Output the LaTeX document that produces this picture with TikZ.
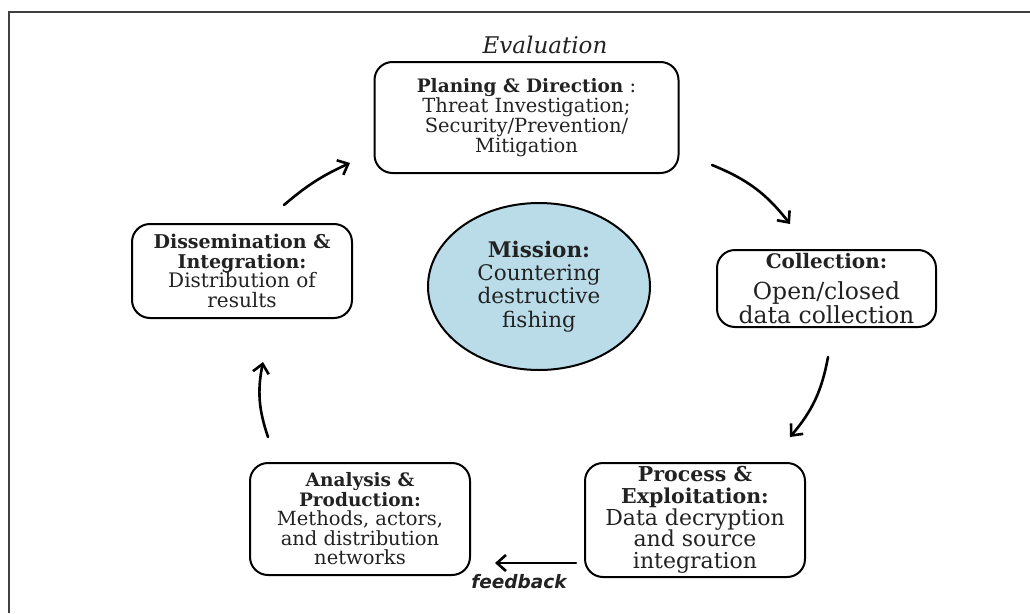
\documentclass[tikz,border=0pt]{standalone}
\usepackage{fontspec}
\setmainfont{DejaVu Serif}
\newfontfamily\fbfont{DejaVu Sans}
\usetikzlibrary{arrows.meta,shapes.geometric}
\definecolor{txt}{HTML}{222222}
\definecolor{mission}{HTML}{B9DCE8}
\newcommand\hdtext[3]{{\fontsize{#1}{#2}\selectfont\bfseries #3}}
\tikzset{
  stagebox/.style={draw=black, line width=2pt, rounded corners=18pt, align=center, text=txt, inner sep=0pt},
  cyclearrow/.style={line width=2.6pt, line cap=round, -{Straight Barb[length=9pt,width=16pt,line width=2.6pt]}},
}
\begin{document}
\begin{tikzpicture}[x=1pt,y=-1pt]
\useasboundingbox (0,0) rectangle (1030,613);
\draw[line width=1.3pt, color=black!75] (9,613) -- (9,12) -- (1030,12);

\node[font=\itshape\fontsize{23}{25}\selectfont, text=txt] (eval) at (545,45) {Evaluation};

\node[stagebox, font=\fontsize{19.5}{20}\selectfont, minimum width=304pt, minimum height=111pt] (plan) at (526.5,117.5)
  {\hdtext{18.5}{20}{Planing \& Direction} :\\ Threat Investigation;\\ Security/Prevention/\\ Mitigation};

\node[stagebox, font=\fontsize{20}{19.5}\selectfont, minimum width=220pt, minimum height=94pt] (dissem) at (242,271)
  {\hdtext{19}{19.5}{Dissemination \&}\\ \hdtext{19}{19.5}{Integration:}\\ Distribution of\\ results};

\node[stagebox, font=\fontsize{23.5}{20}\selectfont, minimum width=219pt, minimum height=77pt] (coll) at (826.5,288.5)
  {\hdtext{20}{20}{Collection:}\\[11pt] Open/closed\\ data collection};

\node[stagebox, font=\fontsize{22}{21.7}\selectfont, minimum width=220pt, minimum height=114pt] (proc) at (695,520)
  {\hdtext{20.5}{21.7}{Process \&}\\ \hdtext{20.5}{21.7}{Exploitation:}\\ Data decryption\\ and source\\ integration};

\node[stagebox, font=\fontsize{19.5}{19.5}\selectfont, minimum width=220pt, minimum height=112pt] (anal) at (360,519)
  {\hdtext{18.5}{19.5}{Analysis \&}\\ \hdtext{18.5}{19.5}{Production:}\\ Methods, actors,\\ and distribution\\ networks};

\node[draw=black, line width=2pt, fill=mission, ellipse, minimum width=222pt, minimum height=167pt, inner sep=0pt, align=center, text=txt, font=\fontsize{21.5}{23.3}\selectfont] (mission) at (539,286.5)
  {\hdtext{21.5}{23.3}{Mission:}\\ Countering\\ destructive\\ fishing};

\coordinate (a1s) at (284,205); \coordinate (a1e) at (350,163);
\coordinate (a2s) at (712,165); \coordinate (a2e) at (790,224);
\coordinate (a3s) at (828,357); \coordinate (a3e) at (790,437);
\coordinate (a4s) at (576,563); \coordinate (a4e) at (495,563);
\coordinate (a5s) at (268,437); \coordinate (a5e) at (263,362);

\draw[cyclearrow] (a1s) to[bend left=8] (a1e);
\draw[cyclearrow] (a2s) to[bend left=15] (a2e);
\draw[cyclearrow] (a3s) to[bend left=15] (a3e);
\draw[cyclearrow] (a4s) -- (a4e);
\draw[cyclearrow] (a5s) to[bend left=15] (a5e);

\node[font=\fbfont\bfseries\itshape\fontsize{18.5}{20}\selectfont, text=txt] (fb) at (519,582) {feedback};
\end{tikzpicture}
\end{document}
